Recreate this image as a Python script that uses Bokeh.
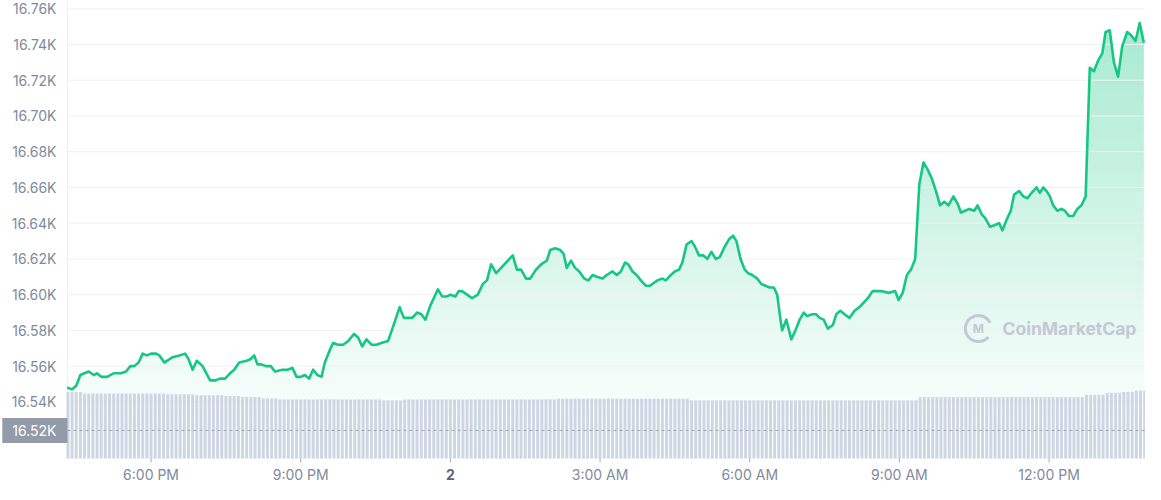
from bokeh.plotting import figure
from bokeh.models import Range1d, Label
from bokeh.core.properties import value
from bokeh.embed import file_html
from bokeh.resources import INLINE

# ---------------- data ----------------
# time in minutes relative to 6:00 PM (day 1); price in USD
minutes = [-101,-95,-90,-85,-75,-69,-65,-60,-53,-49,-45,-36,-30,-25,-20,-15,-10,-5,0,6,
           10,16,26,34,41,45,50,55,62,71,77,83,89,95,100,106,115,120,124,128,
           132,138,144,149,158,164,170,175,180,185,190,195,200,205,209,215,219,225,231,237,
           244,249,254,259,265,271,277,285,291,299,304,310,314,320,325,330,336,345,350,356,
           360,366,
           370,374,380,386,393,399,404,409,415,421,427,435,440,445,451,456,463,469,476,480,
           486,492,496,500,505,510,515,521,526,531,536,543,548,555,560,565,570,574,579,584,
           589,595,600,603,
           609,615,619,625,630,635,639,644,650,654,659,664,669,674,679,684,689,695,700,704,
           709,714,718,723,729,734,739,744,749,753,757,759,764,770,775,780,785,789,795,800,
           804,809,814,820,824,829,834,840,
           846,852,856,862,868,878,887,895,899,904,909,914,919,924,929,934,939,944,949,954,
           959,965,970,974,979,984,990,994,999,1003,1009,1015,1020,1024,1029,1034,1038,1044,1049,1054,
           1059,1065,1069,1073,1077,
           1081,1085,1090,1095,1099,1104,1109,1114,1119,1124,1129,1134,1139,1144,1148,1153,1158,1163,1168,1174,
           1179,1184,1189,1194]

prices = [16548,16547,16549,16555,16557,16555,16556,16554,16554,16555,16556,16556,16557,16560,16560,16562,16567,16566,16567,16567,
          16566,16562,16565,16566,16567,16564,16558,16563,16560,16552,16552,16553,16553,16556,16558,16562,16563,16564,16566,16561,
          16561,16560,16560,16557,16558,16558,16559,16554,16554,16555,16553,16558,16555,16554,16562,16569,16573,16572,16572,16574,
          16578,16576,16571,16575,16572,16572,16573,16574,16582,16593,16587,16587,16587,16590,16589,16586,16594,16603,16599,16599,
          16600,16599,
          16602,16602,16600,16598,16600,16606,16608,16617,16612,16615,16618,16622,16614,16614,16609,16609,16614,16617,16619,16625,
          16626,16625,16623,16615,16619,16615,16613,16609,16608,16611,16610,16609,16611,16613,16611,16613,16618,16617,16613,16611,
          16608,16605,16605,16606,
          16608,16609,16608,16611,16613,16614,16618,16628,16630,16627,16622,16622,16620,16624,16620,16621,16626,16631,16633,16630,
          16620,16614,16612,16611,16609,16606,16605,16604,16604,16600,16586,16580,16586,16575,16580,16586,16590,16588,16589,16589,
          16587,16586,16581,16583,16589,16591,16589,16587,
          16591,16593,16595,16598,16602,16602,16601,16602,16597,16601,16611,16614,16620,16662,16674,16670,16665,16658,16650,16652,
          16650,16655,16651,16646,16647,16648,16647,16650,16645,16643,16638,16639,16640,16636,16642,16647,16656,16658,16655,16654,
          16657,16660,16657,16660,16658,
          16655,16650,16647,16648,16647,16644,16644,16648,16650,16655,16727,16725,16731,16735,16747,16748,16730,16722,16739,16747,
          16745,16742,16752,16741]

# 24h volume bars (billions), one bar per 5 minutes starting at 4:20 PM
volumes = [20.5,20.5,20.5,20.5,20.0,20.0,20.0,20.0,20.0,20.0,
           20.0,20.0,20.0,20.0,20.0,20.0,20.0,20.0,20.0,20.0,
           20.0,20.0,20.0,20.0,19.8,19.8,19.8,19.8,19.8,19.8,
           19.8,19.5,19.5,19.5,19.5,19.5,19.5,19.5,19.2,19.2,
           19.2,19.2,18.9,18.9,18.9,18.9,18.9,18.5,18.5,18.5,
           18.5,18.2,18.2,18.2,18.2,18.2,18.2,18.2,18.2,18.2,
           18.2,18.2,18.2,18.2,18.2,18.2,18.2,18.2,18.2,18.2,
           18.2,18.2,18.2,18.2,18.2,18.2,17.9,17.9,17.9,17.9,
           17.9,18.2,18.2,18.2,18.2,18.2,18.2,18.2,18.2,18.2,
           18.2,18.2,18.2,18.2,18.2,18.2,18.2,18.2,18.2,18.2,
           18.2,18.2,18.2,18.2,18.2,18.2,18.2,18.2,18.2,18.2,
           18.2,18.2,18.2,18.2,18.2,18.2,18.2,18.2,18.4,18.4,
           18.4,18.4,18.4,18.4,18.4,18.4,18.4,18.4,18.4,18.4,
           18.4,18.4,18.4,18.4,18.4,18.4,18.4,18.4,18.4,18.4,
           18.4,18.4,18.4,18.4,18.4,18.4,18.4,18.4,18.4,18.4,
           17.9,17.9,17.9,17.9,17.9,17.9,17.9,17.9,17.9,17.9,
           17.9,17.9,17.9,17.9,17.9,17.9,17.9,17.9,17.9,17.9,
           17.9,17.9,17.9,17.9,17.9,17.9,17.9,17.9,17.9,17.9,
           17.9,17.9,17.9,17.9,17.9,17.9,17.9,17.9,17.9,17.9,
           17.9,17.9,17.9,17.9,17.9,17.9,17.9,17.9,17.9,17.9,
           17.9,17.9,17.9,17.9,17.9,18.9,18.9,18.9,18.9,18.9,
           18.9,18.9,18.9,18.9,18.9,18.9,18.9,18.9,18.9,18.9,
           18.9,18.9,18.9,18.9,18.9,18.9,18.9,18.9,18.9,18.9,
           18.9,18.9,18.9,18.9,18.9,18.9,18.9,18.9,18.9,18.9,
           18.9,18.9,18.9,18.9,18.9,19.6,19.6,19.6,19.6,19.6,
           20.2,20.2,20.2,20.2,20.5,20.5,20.5,20.9,20.9,20.9]
vol_start_minute = -100
vol_step_minutes = 5
vol_minutes = [vol_start_minute + vol_step_minutes * i for i in range(len(volumes))]

x_tick_minutes = [0, 180, 360, 540, 720, 900, 1080]
x_tick_labels = ["6:00 PM", "9:00 PM", "2", "3:00 AM", "6:00 AM", "9:00 AM", "12:00 PM"]
day_label = "2"
y_ticks = [16540, 16560, 16580, 16600, 16620, 16640, 16660, 16680, 16700, 16720, 16740, 16760]
y_tick_labels = ["16.54K", "16.56K", "16.58K", "16.60K", "16.62K", "16.64K",
                 "16.66K", "16.68K", "16.70K", "16.72K", "16.74K", "16.76K"]
marker_price = 16524
marker_label = "16.52K"
watermark = "CoinMarketCap"
watermark_minute, watermark_price = 1024, 16581
logo_minute, logo_price = 995, 16581

# ---------------- layout: the frame is the whole canvas ----------------
W, H = 1145, 484
DATA_LEFT, DATA_RIGHT = -100.5, 1196          # minutes at plot-area left/right
PLOT_LEFT_PX, PLOT_RIGHT_PX = 67, W           # canvas x of the plot area
PRICE_TOP, PRICE_TOP_PX = 16760, 8.3          # top gridline and its canvas y
PRICE_BOT, PLOT_BOTTOM_PX = 16508.3, 458      # price at bottom of plot area
XLABEL_PX = 474
SX = (PLOT_RIGHT_PX - PLOT_LEFT_PX) / (DATA_RIGHT - DATA_LEFT)
SY = (PLOT_BOTTOM_PX - PRICE_TOP_PX) / (PRICE_TOP - PRICE_BOT)
X_START = DATA_LEFT - PLOT_LEFT_PX / SX
X_END = X_START + W / SX
Y_END = PRICE_TOP + PRICE_TOP_PX / SY
Y_START = Y_END - H / SY
VOL_PX = 3.25                  # pixels per volume unit
VOL_END = PLOT_BOTTOM_PX / VOL_PX
VOL_START = -(H - PLOT_BOTTOM_PX) / VOL_PX

def Y(py):
    return Y_END - py / SY

GREEN = "#16c784"
FONT = "Inter"
LABEL_GRAY = "#808a9d"

p = figure(width=W, height=H, output_backend="svg", toolbar_location=None,
           x_range=Range1d(X_START, X_END), y_range=Range1d(Y_START, Y_END),
           min_border=0, min_border_left=0, min_border_right=0, min_border_top=0, min_border_bottom=0)
p.axis.visible = False
p.grid.visible = False
p.outline_line_color = None
p.background_fill_color = "white"
p.border_fill_color = "white"
p.extra_y_ranges = {"vol": Range1d(VOL_START, VOL_END)}

# gradient area under the line: opaque horizontal bands, computed by exact clipping
def clip_band(xs, ys, lo, hi):
    ox, oy = [], []
    for i in range(len(xs) - 1):
        xa, ya, xb, yb = xs[i], ys[i], xs[i + 1], ys[i + 1]
        ox.append(xa); oy.append(min(max(ya, lo), hi))
        ts = []
        for th in (lo, hi):
            if (ya - th) * (yb - th) < 0:
                ts.append((th - ya) / (yb - ya))
        for t in sorted(ts):
            ox.append(xa + t * (xb - xa)); oy.append(min(max(ya + t * (yb - ya), lo), hi))
    ox.append(xs[-1]); oy.append(min(max(ys[-1], lo), hi))
    return ox, oy

def blend(a):
    r = round(255 - a * (255 - 22)); g = round(255 - a * (255 - 199)); b = round(255 - a * (255 - 132))
    return "#%02x%02x%02x" % (r, g, b)

band = 3.0
lo = PRICE_BOT
top = max(prices)
while lo < top:
    hi = lo + band
    mid = (lo + hi) / 2
    a = min(max(0.05 + (mid - 16550) * 0.0016, 0.02), 0.42)
    bx, by = clip_band(minutes, prices, lo, hi)
    y1 = [(lo - 0.6) if yy > lo + 1e-9 else lo for yy in by]
    p.varea(x=bx, y1=y1, y2=by, fill_color=blend(a), fill_alpha=1.0, level="image")
    lo = hi

# horizontal grid lines and left border line
p.segment(x0=[DATA_LEFT] * len(y_ticks), x1=[X_END] * len(y_ticks), y0=y_ticks, y1=y_ticks,
          line_color="#eef1f5", line_width=1, level="underlay")
p.segment(x0=[DATA_LEFT], x1=[DATA_LEFT], y0=[PRICE_BOT], y1=[Y_END],
          line_color="#eef1f5", line_width=1, level="underlay")

# volume bars
p.vbar(x=vol_minutes, width=3.55, bottom=0, top=volumes, y_range_name="vol",
       fill_color="#cfd6e3", line_color=None)

# price line
p.line(minutes, prices, line_color=GREEN, line_width=2.6, line_join="round")

# dashed marker line
p.segment(x0=[DATA_LEFT], x1=[X_END], y0=[marker_price], y1=[marker_price],
          line_color="#a2a9b6", line_dash="3 3", line_width=1, level="overlay")

# y tick labels
p.text(x=[DATA_LEFT] * len(y_ticks), y=y_ticks, text=y_tick_labels, x_offset=-11,
       text_align="right", text_baseline="middle", text_font=value(FONT),
       text_font_size="14px", text_color=LABEL_GRAY)

# marker label box (box right edge on the plot-area border)
p.add_layout(Label(x=DATA_LEFT, y=marker_price, text=marker_label,
                   text_align="right", text_baseline="middle", text_color="white",
                   text_font=FONT, text_font_size="14px",
                   background_fill_color="#949ba8",
                   padding=dict(left=10, right=11, top=4, bottom=4)))

# x ticks and labels
p.segment(x0=x_tick_minutes, x1=x_tick_minutes, y0=[Y(PLOT_BOTTOM_PX)] * len(x_tick_minutes),
          y1=[Y(PLOT_BOTTOM_PX + 4)] * len(x_tick_minutes), line_color="#a6adba", line_width=1)
norm_x = [t for t, l in zip(x_tick_minutes, x_tick_labels) if l != day_label]
norm_l = [l for l in x_tick_labels if l != day_label]
p.text(x=norm_x, y=[Y(XLABEL_PX)] * len(norm_x), text=norm_l, text_align="center",
       text_baseline="middle", text_font=value(FONT), text_font_size="14px", text_color=LABEL_GRAY)
day_x = [t for t, l in zip(x_tick_minutes, x_tick_labels) if l == day_label]
p.text(x=day_x, y=[Y(XLABEL_PX)] * len(day_x), text=[day_label] * len(day_x), text_align="center",
       text_baseline="middle", text_font=value(FONT), text_font_size="14px",
       text_font_style="bold", text_color="#58667e")

# watermark
WM = "#c3c9d5"
p.arc(x=[logo_minute], y=[logo_price], radius=13, radius_units="screen", start_angle=0.45, end_angle=-0.7,
      direction="anticlock", line_color=WM, line_width=3)
p.add_layout(Label(x=logo_minute, y=logo_price, text="M", text_align="center", text_baseline="middle",
                   text_font=FONT, text_font_size="12px", text_font_style="bold", text_color=WM))
p.add_layout(Label(x=watermark_minute, y=watermark_price, text=watermark, text_align="left",
                   text_baseline="middle", text_font=FONT, text_font_size="17.5px",
                   text_font_style="bold", text_color=WM))

open("out.html", "w").write(file_html(p, INLINE))
